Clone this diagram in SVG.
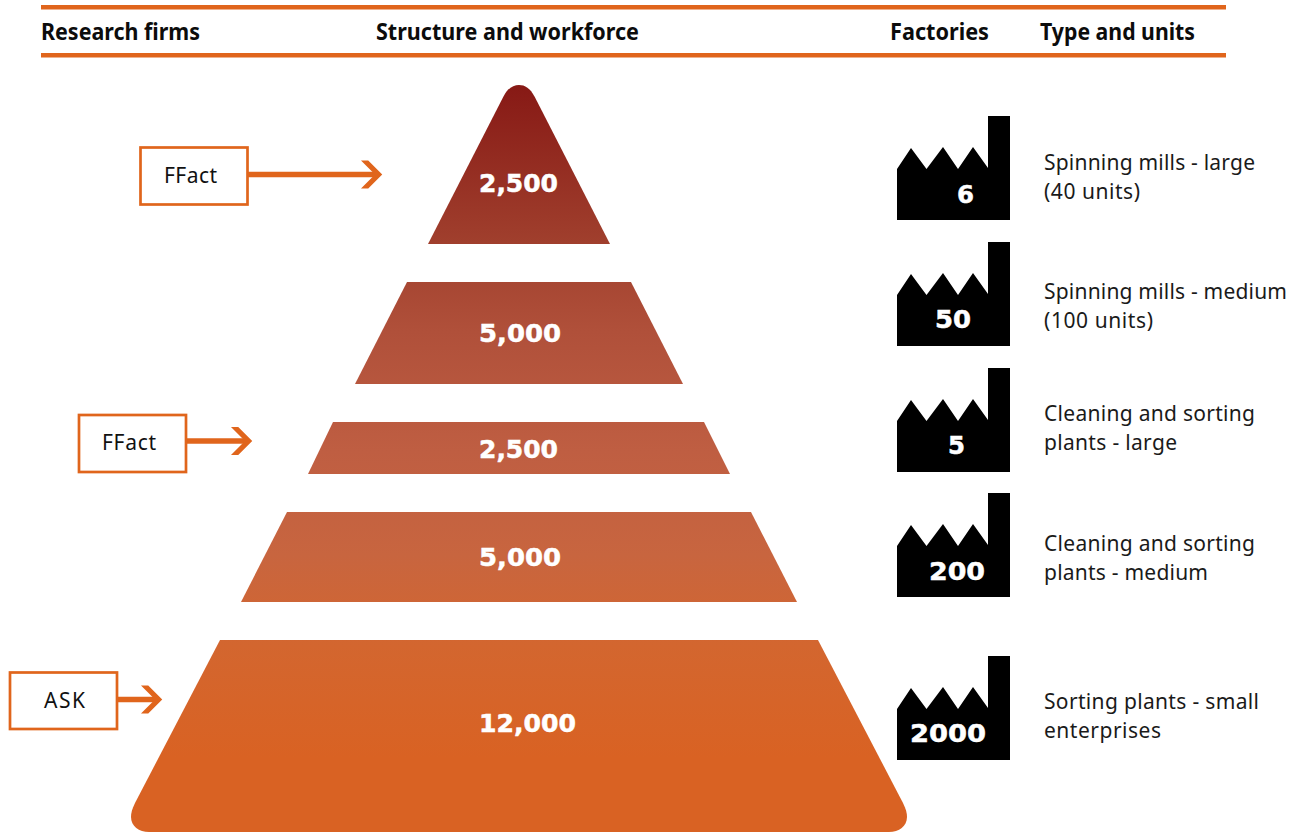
<svg xmlns="http://www.w3.org/2000/svg" xmlns:xlink="http://www.w3.org/1999/xlink" width="1300" height="832" viewBox="0 0 1300 832">
<style>
text{font-family:"Noto Sans","Open Sans","Liberation Sans",sans-serif;fill:#111}
.h{font-size:22.500px;font-weight:700;fill:#0c0c0c}
.l{font-size:21px;fill:#1a1a1a}
.b{font-size:21px;fill:#111;text-anchor:start}
.n{font-family:"DejaVu Sans","Liberation Sans",sans-serif;font-size:24.500px;font-weight:700;fill:#fff;stroke:#fff;stroke-width:.5}
.rule{fill:#e0651c}
.box{fill:#fff;stroke:#e0651c;stroke-width:2.700}
.conn{fill:none;stroke:#e0651c;stroke-width:5.500;marker-end:url(#head)}
.tier{fill:url(#g)}
</style>
<defs>
<linearGradient id="g" gradientUnits="userSpaceOnUse" x1="0" y1="85" x2="0" y2="832">
<stop offset="0" stop-color="#871915"/>
<stop offset="0.21" stop-color="#a03f2d"/>
<stop offset="0.33" stop-color="#b0503a"/>
<stop offset="0.49" stop-color="#bf5e42"/>
<stop offset="0.63" stop-color="#c8653f"/>
<stop offset="0.75" stop-color="#d3662f"/>
<stop offset="0.9" stop-color="#d96223"/>
<stop offset="1" stop-color="#d96223"/>
</linearGradient>
<marker id="head" markerUnits="userSpaceOnUse" markerWidth="22" markerHeight="28" viewBox="0 0 21 27" refX="14" refY="13.500" orient="auto" overflow="visible">
<path d="M0 0 H7 L20.500 13.500 L7 27 H0 L13.500 13.500 Z" fill="#e0651c"/>
</marker>
<path id="f" d="M897 53 L911 32 L926.500 53 L943 31 L958 53 L973 31 L988 52 L988 0 L1010 0 L1010 104 L897 104 Z"/>
</defs>
<g id="header">
<rect class="rule" x="41" y="5" width="1185" height="4.500"/>
<rect class="rule" x="41" y="53" width="1185" height="4.500"/>
<text class="h" x="41" y="40" textLength="159" lengthAdjust="spacingAndGlyphs">Research firms</text>
<text class="h" x="376" y="40" textLength="263" lengthAdjust="spacingAndGlyphs">Structure and workforce</text>
<text class="h" x="890" y="40" textLength="99" lengthAdjust="spacingAndGlyphs">Factories</text>
<text class="h" x="1040" y="40" textLength="155" lengthAdjust="spacingAndGlyphs">Type and units</text>
</g>
<g id="connectors">
<path class="conn" d="M248 174.500 H375.500"/>
<path class="conn" d="M186 441 H245.500"/>
<path class="conn" d="M117 699.500 H155.500"/>
</g>
<g id="firm-ffact-1"><rect class="box" x="140.500" y="147.500" width="107" height="57"/><text class="b" x="164" y="183" textLength="53">FFact</text></g>
<g id="firm-ffact-2"><rect class="box" x="79" y="415" width="107" height="57"/><text class="b" x="102" y="450" textLength="54">FFact</text></g>
<g id="firm-ask"><rect class="box" x="10" y="672.500" width="107" height="56.500"/><text class="b" x="44" y="708" textLength="41">ASK</text></g>
<g id="tier-1"><path class="tier" d="M428 244 L503.200 97 C508 88 513 85 519 85 C525 85 530 88 534.800 97 L610 244 Z"/><text class="n" x="479" y="192" textLength="79" lengthAdjust="spacingAndGlyphs">2,500</text></g>
<g id="tier-2"><path class="tier" d="M407 282 H631 L683 384 H355 Z"/><text class="n" x="479" y="342" textLength="82" lengthAdjust="spacingAndGlyphs">5,000</text></g>
<g id="tier-3"><path class="tier" d="M333 422 H704 L730 474 H308 Z"/><text class="n" x="479" y="458" textLength="79" lengthAdjust="spacingAndGlyphs">2,500</text></g>
<g id="tier-4"><path class="tier" d="M287 512 H751 L797 602 H241 Z"/><text class="n" x="479" y="566" textLength="82" lengthAdjust="spacingAndGlyphs">5,000</text></g>
<g id="tier-5"><path class="tier" d="M220 640 H818 L903 803 C906 809 907 813 907 817 C907 826 899 832 889 832 H149 C139 832 131 826 131 817 C131 813 132 809 135 803 Z"/><text class="n" x="479" y="732" textLength="97" lengthAdjust="spacingAndGlyphs">12,000</text></g>
<g id="factory-1"><use xlink:href="#f" href="#f" y="116"/><text class="n" x="957" y="203" textLength="17" lengthAdjust="spacingAndGlyphs">6</text>
<text class="l" x="1044" y="170" textLength="211">Spinning mills - large</text><text class="l" x="1044" y="199" textLength="96">(40 units)</text></g>
<g id="factory-2"><use xlink:href="#f" href="#f" y="242"/><text class="n" x="935" y="328" textLength="36" lengthAdjust="spacingAndGlyphs">50</text>
<text class="l" x="1044" y="299" textLength="243">Spinning mills - medium</text><text class="l" x="1044" y="328" textLength="109">(100 units)</text></g>
<g id="factory-3"><use xlink:href="#f" href="#f" y="368"/><text class="n" x="948" y="454" textLength="17" lengthAdjust="spacingAndGlyphs">5</text>
<text class="l" x="1044" y="421" textLength="211">Cleaning and sorting</text><text class="l" x="1044" y="450" textLength="133">plants - large</text></g>
<g id="factory-4"><use xlink:href="#f" href="#f" y="493"/><text class="n" x="929" y="580" textLength="56" lengthAdjust="spacingAndGlyphs">200</text>
<text class="l" x="1044" y="551" textLength="211">Cleaning and sorting</text><text class="l" x="1044" y="580" textLength="164">plants - medium</text></g>
<g id="factory-5"><use xlink:href="#f" href="#f" y="656"/><text class="n" x="910" y="742" textLength="76" lengthAdjust="spacingAndGlyphs">2000</text>
<text class="l" x="1044" y="709" textLength="215">Sorting plants - small</text><text class="l" x="1044" y="738" textLength="117">enterprises</text></g>
</svg>
